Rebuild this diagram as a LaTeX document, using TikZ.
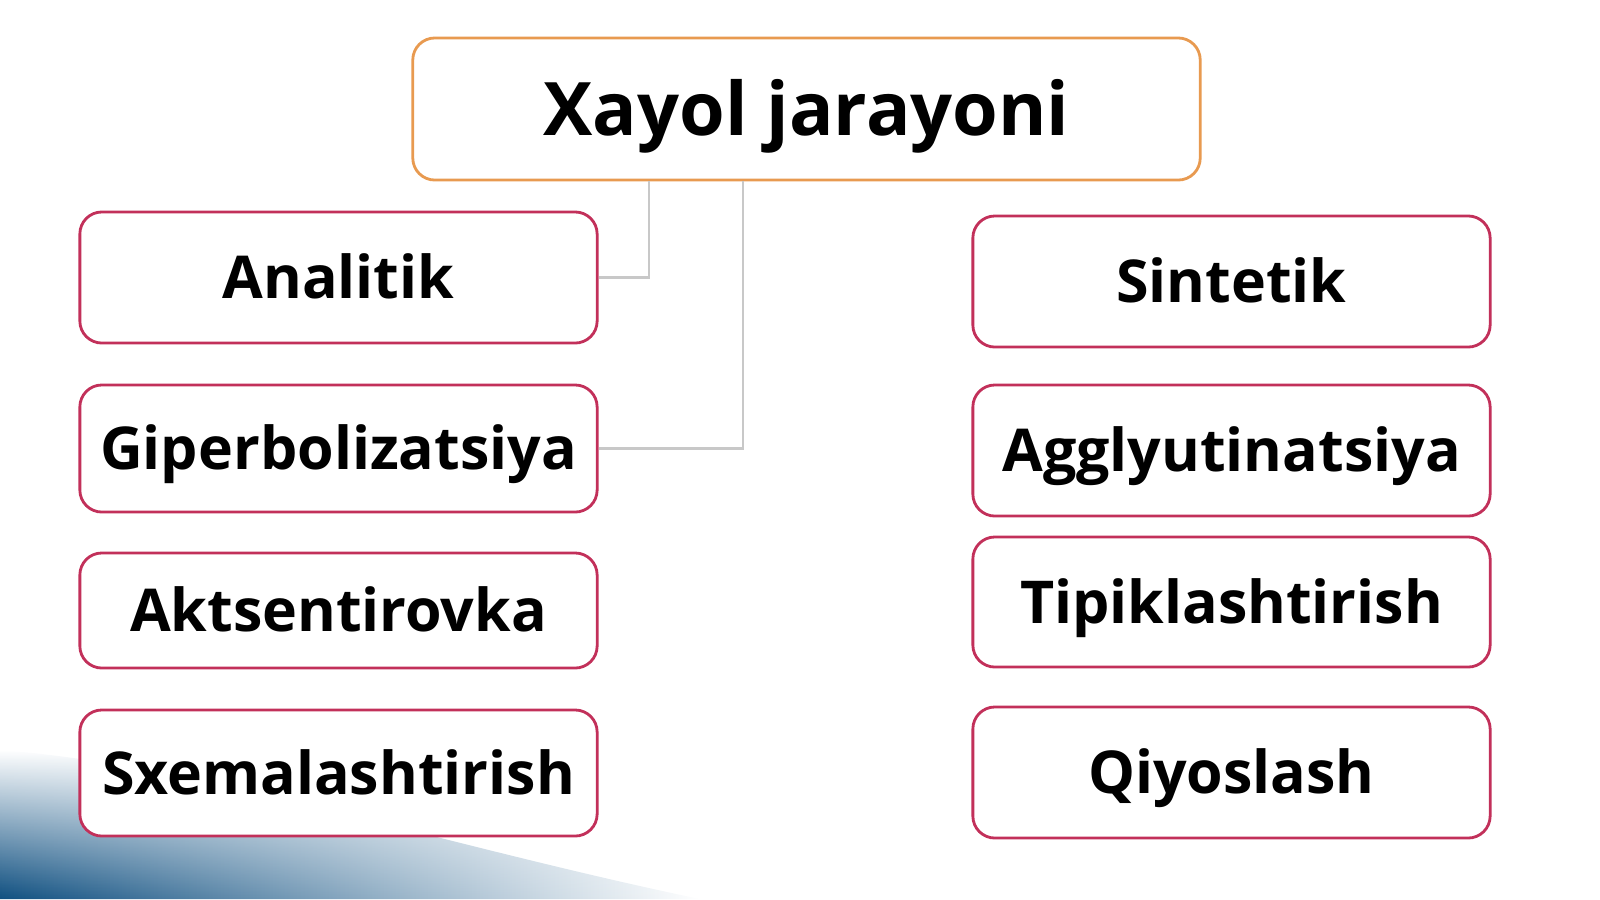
\documentclass[tikz,border=0pt]{standalone}
\usepackage{fontspec}
\setmainfont{Open Sans}
\usepackage{xcolor}
\usetikzlibrary{positioning, calc, fadings}

\definecolor{boxred}{HTML}{C2305A}
\definecolor{boxorange}{HTML}{E89A50}
\definecolor{linkgray}{HTML}{C8C8C8}
\definecolor{swooshblue}{HTML}{0F4F80}

\tikzset{
    itembox/.style={draw=boxred, line width=0.8pt, rounded corners=0.22cm, fill=white,
        minimum width=5.17cm, inner sep=0pt, text height=12pt, text depth=0pt,
        font=\bfseries\fontsize{16.8}{20}\selectfont},
    titlebox/.style={draw=boxorange, line width=0.8pt, rounded corners=0.22cm, fill=white,
        minimum width=7.87cm, minimum height=1.42cm, inner sep=0pt, text height=15pt, text depth=0pt,
        font=\bfseries\fontsize{21}{25}\selectfont},
    link/.style={draw=linkgray, line width=0.6pt}
}

\begin{document}
\begin{tikzpicture}[x=0.01cm, y=-0.01cm]
    \useasboundingbox (0,0) rectangle (1600,899);
    % soft blue corner in the background
    \shade[left color=swooshblue, right color=white, path fading=north]
        (0,899) -- (0,750) .. controls (200,765) and (440,845) .. (700,899) -- cycle;

    \node[titlebox] (title) at (806.5,109) {Xayol jarayoni};

    % left column
    \foreach \name/\txt/\y/\h in {anal/Analitik/277.5/1.31, giper/Giperbolizatsiya/448.5/1.27,
        aktsen/Aktsentirovka/610.5/1.15, sxema/Sxemalashtirish/773/1.26} {
        \node[itembox, minimum height=\h cm] (\name) at (338.5,\y) {\txt};
    }
    % right column
    \foreach \name/\txt/\y/\h in {sint/Sintetik/281.5/1.31, agglu/Agglyutinatsiya/450.5/1.31,
        tipik/Tipiklashtirish/602/1.30, qiyos/Qiyoslash/772.5/1.31} {
        \node[itembox, minimum height=\h cm] (\name) at (1231.5,\y) {\txt};
    }

    \draw[link] ([xshift=-1.575cm]title.south) |- (anal.east);
    \draw[link] ([xshift=-0.635cm]title.south) |- (giper.east);
\end{tikzpicture}
\end{document}
